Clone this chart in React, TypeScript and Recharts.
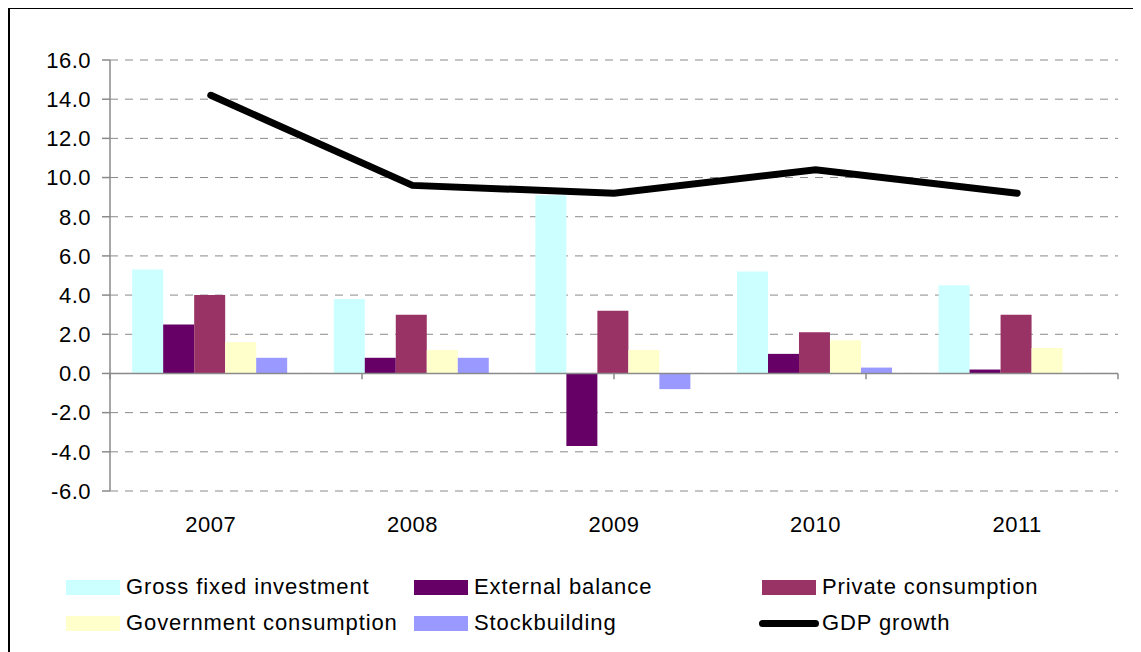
import { BarChart, Bar, Line, XAxis, YAxis, CartesianGrid, ReferenceLine } from 'recharts';

const years = ['2007', '2008', '2009', '2010', '2011'];
const grossFixedInvestment = [5.3, 3.8, 9.1, 5.2, 4.5];
const externalBalance = [2.5, 0.8, -3.7, 1.0, 0.2];
const privateConsumption = [4.0, 3.0, 3.2, 2.1, 3.0];
const governmentConsumption = [1.6, 1.2, 1.2, 1.7, 1.3];
const stockbuilding = [0.8, 0.8, -0.8, 0.3, 0.0];
const gdpGrowth = [14.2, 9.6, 9.2, 10.4, 9.2];

const yTicks = [-6, -4, -2, 0, 2, 4, 6, 8, 10, 12, 14, 16];
// tick marks on the zero line, every half category
const halfCategoryTicks = [0, 1, 2, 3, 4, 5, 6, 7, 8, 9, 10];

const chartData = years.map((year, i) => ({
  year,
  gross: grossFixedInvestment[i],
  external: externalBalance[i],
  private: privateConsumption[i],
  government: governmentConsumption[i],
  stock: stockbuilding[i],
  gdp: gdpGrowth[i],
}));

const series = [
  { key: 'gross', name: 'Gross fixed investment', color: '#CCFFFF', kind: 'bar' },
  { key: 'external', name: 'External balance', color: '#660066', kind: 'bar' },
  { key: 'private', name: 'Private consumption', color: '#993366', kind: 'bar' },
  { key: 'government', name: 'Government consumption', color: '#FFFFCC', kind: 'bar' },
  { key: 'stock', name: 'Stockbuilding', color: '#9999FF', kind: 'bar' },
  { key: 'gdp', name: 'GDP growth', color: '#000000', kind: 'line' },
];

const font = '"Liberation Sans", Arial, sans-serif';
const axisGrey = '#8a8a8a';

const LegendBlock = () => (
  <div style={{ position: 'absolute', left: 58, top: 567, width: 1060, fontFamily: font }}>
    {series.map((s, i) => {
      const col = i % 3;
      const row = Math.floor(i / 3);
      return (
        <div
          key={s.key}
          style={{
            position: 'absolute',
            left: col * 348,
            top: row * 36,
            height: 26,
            display: 'flex',
            alignItems: 'center',
            whiteSpace: 'nowrap',
          }}
        >
          {s.kind === 'bar' ? (
            <span style={{ display: 'inline-block', width: 54, height: 15, background: s.color, marginRight: 6 }} />
          ) : (
            <span
              style={{
                display: 'inline-block',
                width: 60,
                height: 7,
                borderRadius: 4,
                background: s.color,
                marginLeft: -3,
                marginRight: 3,
              }}
            />
          )}
          <span style={{ fontSize: 22, letterSpacing: 0.9, color: '#000' }}>{s.name}</span>
        </div>
      );
    })}
  </div>
);

export default function App() {
  return (
    <div style={{ position: 'relative', width: 1133, height: 645, marginTop: -1, overflow: 'hidden' }}>
      <div
        style={{
          position: 'absolute',
          left: 0,
          top: 0,
          width: 1300,
          height: 800,
          border: '2px solid #000',
        }}
      />
      <div style={{ position: 'absolute', left: 0, top: 0 }}>
        <BarChart
          width={1133}
          height={534}
          data={chartData}
          margin={{ top: 53, right: 23, bottom: 10, left: 40 }}
          barCategoryGap="11%"
          barGap={0}
        >
          <CartesianGrid vertical={false} stroke={axisGrey} strokeDasharray="8 7" />
          <XAxis
            dataKey="year"
            axisLine={false}
            tickLine={false}
            tickSize={0}
            tickMargin={25}
            height={40}
            interval={0}
            tick={{ fill: '#000', fontSize: 22, fontFamily: font, letterSpacing: 0.5 }}
          />
          <XAxis xAxisId="grid" type="number" domain={[0, 10]} hide />
          <YAxis
            domain={[-6, 16]}
            ticks={yTicks}
            interval={0}
            tickFormatter={(v: number) => v.toFixed(1)}
            tick={{ fill: '#000', fontSize: 22, fontFamily: font, letterSpacing: 0.5 }}
            tickSize={8}
            tickMargin={11}
            width={62}
            axisLine={{ stroke: axisGrey, strokeWidth: 1.5 }}
            tickLine={{ stroke: axisGrey, strokeWidth: 1.5 }}
          />
          {series
            .filter(s => s.kind === 'bar')
            .map(s => (
              <Bar key={s.key} dataKey={s.key} name={s.name} fill={s.color} isAnimationActive={false} />
            ))}
          <ReferenceLine y={0} stroke={axisGrey} strokeWidth={1.5} />
          {halfCategoryTicks.map(t => (
            <ReferenceLine
              key={t}
              xAxisId="grid"
              ifOverflow="visible"
              segment={[
                { x: t, y: 0 },
                { x: t, y: -0.3 },
              ]}
              stroke={axisGrey}
              strokeWidth={1.5}
            />
          ))}
          <Line
            type="linear"
            dataKey="gdp"
            name="GDP growth"
            stroke="#000"
            strokeWidth={7}
            strokeLinecap="round"
            dot={false}
            activeDot={false}
            isAnimationActive={false}
          />
        </BarChart>
      </div>
      <LegendBlock />
    </div>
  );
}
